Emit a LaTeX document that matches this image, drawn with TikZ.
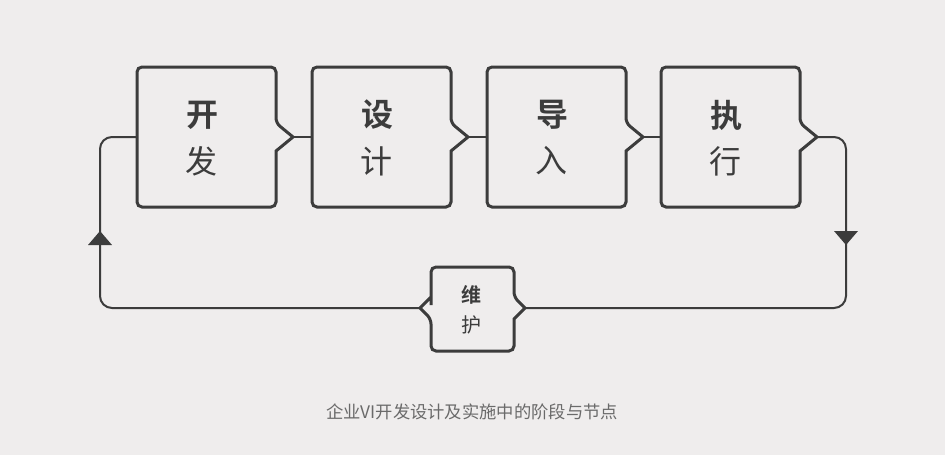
\documentclass[tikz,border=0pt]{standalone}
\usepackage{fontspec}
\newfontfamily\cjk{Noto Sans CJK SC}
\newfontfamily\cjkb{Noto Sans CJK SC Bold}
\definecolor{bg}{HTML}{EFEDED}
\definecolor{ink}{HTML}{3C3C3C}
\definecolor{cap}{HTML}{6A6A6A}
\begin{document}
\begin{tikzpicture}[x=1pt,y=-1pt,
  boxline/.style={draw=ink,line width=3pt,rounded corners=5pt,line join=miter},
  conn/.style={draw=ink,line width=2pt,rounded corners=12pt},
  topch/.style={font=\cjkb\fontsize{32}{32}\selectfont,text=ink},
  botch/.style={font=\cjk\fontsize{32}{32}\selectfont,text=ink},
  smtop/.style={font=\cjkb\fontsize{20}{20}\selectfont,text=ink},
  smbot/.style={font=\cjk\fontsize{20}{20}\selectfont,text=ink}]
\fill[bg] (0,0) rectangle (945,455);
\useasboundingbox (0,0) rectangle (945,455);
\foreach \n/\x/\a/\b in {1/137/开/发,2/312/设/计,3/487/导/入,4/661/执/行}{
  \draw[boxline] (\x,137) -- (\x,67) -- (\x+139,67) -- (\x+139,123) [sharp corners] -- (\x+156,137) -- (\x+139,151) [rounded corners=5pt] -- (\x+139,207) -- (\x,207) -- cycle;
  \coordinate (in\n) at (\x,137);
  \coordinate (out\n) at (\x+156,137);
  \node[topch] (t\n) at (\x+65,115) {\a};
  \node[botch] (b\n) at (\x+64,161) {\b};
}
\draw[boxline] (431,308) -- (431,267) -- (514,267) -- (514,297) [sharp corners] -- (525,308) -- (514,319) [rounded corners=5pt] -- (514,351) -- (431,351) -- (431,319) [sharp corners] -- (420,308) -- (431,297) [rounded corners=5pt] -- cycle;
\coordinate (mL) at (420,308);
\coordinate (mR) at (525,308);
\node[smtop] (wt) at (471,295) {维};
\node[smbot] (wb) at (471,325) {护};
\draw[ink,line width=2pt] (out1) -- (in2) (out2) -- (in3) (out3) -- (in4);
\draw[conn] (mL) -- (100,308) -- (100,137) -- (in1);
\draw[conn] (out4) -- (846,137) -- (846,308) -- (mR);
\fill[ink] (88,245) -- (112,245) -- (100,231) -- cycle;
\fill[ink] (834,231) -- (858,231) -- (846,245) -- cycle;
\node[font=\cjk\fontsize{17.3}{17.3}\selectfont,text=cap] (caption) at (472,412) {企业VI开发设计及实施中的阶段与节点};
\end{tikzpicture}
\end{document}
